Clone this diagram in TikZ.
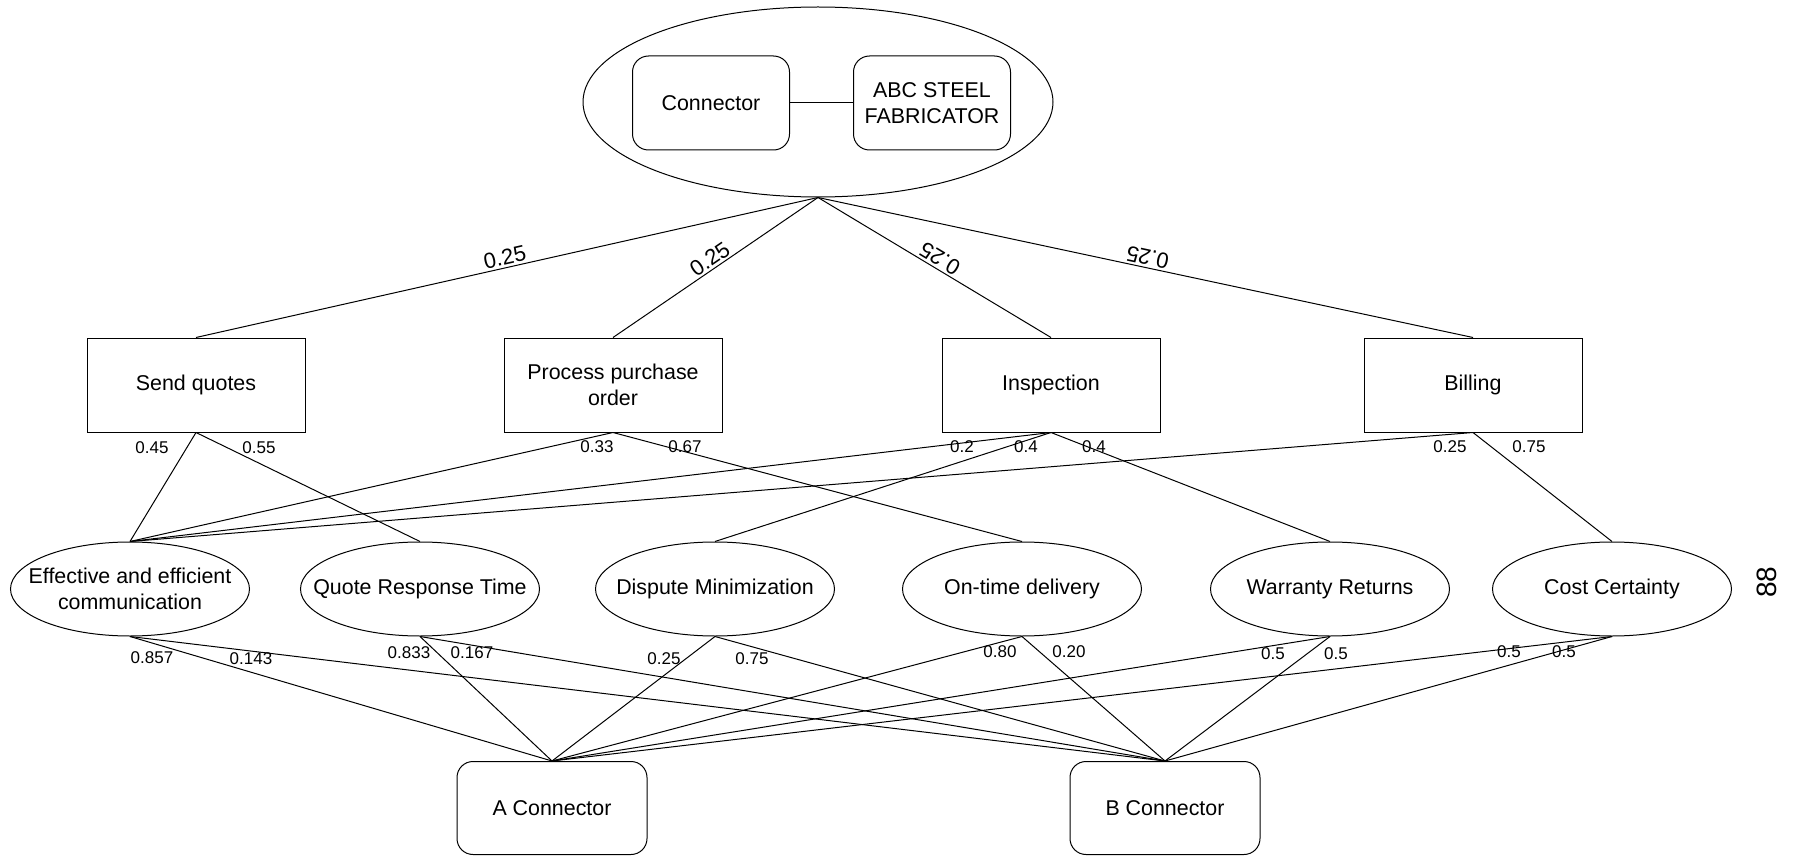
\documentclass[tikz,border=0pt]{standalone}
\usepackage{fontspec}
\setmainfont{Liberation Sans}
\usetikzlibrary{shapes.geometric,positioning}

\begin{document}
\begin{tikzpicture}[x=0.5pt,y=-0.5pt,line width=0.5pt,
  every node/.style={font=\fontsize{10.7}{13}\selectfont,align=center},
  conbox/.style={draw,rectangle,rounded corners=8pt,inner sep=0pt},
  task/.style={draw,rectangle,minimum width=109pt,minimum height=47pt,inner sep=0pt},
  goal/.style={draw,ellipse,minimum width=119.5pt,minimum height=47pt,inner xsep=-18pt,inner ysep=0pt},
  tw/.style={font=\fontsize{11}{13}\selectfont,inner sep=1pt,pos=0.5},
  wt/.style={font=\fontsize{8.5}{10}\selectfont,inner sep=0pt}]

  \useasboundingbox (0,0) rectangle (1796,856);

  % firm on top
  \node[draw,ellipse,minimum width=235pt,minimum height=95pt] (top) at (818,102) {};
  \node[conbox,minimum width=78.5pt,minimum height=47pt] (conn) at (711,103) {Connector};
  \node[conbox,minimum width=78.5pt,minimum height=47pt,right=31.5pt of conn] (abc) {ABC STEEL\\FABRICATOR};
  \draw (conn) -- (abc);

  % processes
  \node[task] (sq) at (196,385) {Send quotes};
  \node[task] (ppo) at (613,385) {Process purchase\\order};
  \node[task] (ins) at (1051,385) {Inspection};
  \node[task] (bil) at (1473,385) {Billing};

  \draw (top.south) -- node[tw,sloped,above] {0.25} (sq.north);
  \draw (top.south) -- node[tw,sloped,above] {0.25} (ppo.north);
  \draw (ins.north) -- node[tw,sloped,allow upside down,below] {0.25} (top.south);
  \draw (bil.north) -- node[tw,sloped,allow upside down,below] {0.25} (top.south);

  % criteria
  \node[goal] (eff) at (130,589) {Effective and efficient\\communication};
  \node[goal] (qrt) at (420,589) {Quote Response Time};
  \node[goal] (dm) at (715,589) {Dispute Minimization};
  \node[goal] (otd) at (1022,589) {On-time delivery};
  \node[goal] (wr) at (1330,589) {Warranty Returns};
  \node[goal] (cc) at (1612,589) {Cost Certainty};

  \draw (sq.south) -- (eff.north);
  \draw (sq.south) -- (qrt.north);
  \draw (ppo.south) -- (eff.north);
  \draw (ppo.south) -- (otd.north);
  \draw (ins.south) -- (eff.north);
  \draw (ins.south) -- (dm.north);
  \draw (ins.south) -- (wr.north);
  \draw (bil.south) -- (eff.north);
  \draw (bil.south) -- (cc.north);

  \node[wt] (w1) at (152,448) {0.45};
  \node[wt] (w2) at (259,448) {0.55};
  \node[wt] (w3) at (597,447) {0.33};
  \node[wt] (w4) at (685,447) {0.67};
  \node[wt] (w5) at (962,447) {0.2};
  \node[wt] (w6) at (1026,447) {0.4};
  \node[wt] (w7) at (1094,447) {0.4};
  \node[wt] (w8) at (1450,447) {0.25};
  \node[wt] (w9) at (1529,447) {0.75};

  % alternatives
  \node[conbox,minimum width=95pt,minimum height=46.5pt] (ac) at (552,808) {A Connector};
  \node[conbox,minimum width=95pt,minimum height=46.5pt] (bc) at (1165,808) {B Connector};

  \draw (eff.south) -- (ac.north);
  \draw (eff.south) -- (bc.north);
  \draw (qrt.south) -- (ac.north);
  \draw (qrt.south) -- (bc.north);
  \draw (dm.south) -- (ac.north);
  \draw (dm.south) -- (bc.north);
  \draw (otd.south) -- (ac.north);
  \draw (otd.south) -- (bc.north);
  \draw (wr.south) -- (ac.north);
  \draw (wr.south) -- (bc.north);
  \draw (cc.south) -- (ac.north);
  \draw (cc.south) -- (bc.north);

  \node[wt] (v1) at (152,658) {0.857};
  \node[wt] (v2) at (251,659) {0.143};
  \node[wt] (v3) at (409,653) {0.833};
  \node[wt] (v4) at (472,653) {0.167};
  \node[wt] (v5) at (664,659) {0.25};
  \node[wt] (v6) at (752,659) {0.75};
  \node[wt] (v7) at (1000,652) {0.80};
  \node[wt] (v8) at (1069,652) {0.20};
  \node[wt] (v9) at (1273,654) {0.5};
  \node[wt] (v10) at (1336,654) {0.5};
  \node[wt] (v11) at (1509,652) {0.5};
  \node[wt] (v12) at (1564,652) {0.5};

  \node[font=\fontsize{14}{16}\selectfont,rotate=90] (pg) at (1767,582) {88};

\end{tikzpicture}
\end{document}
